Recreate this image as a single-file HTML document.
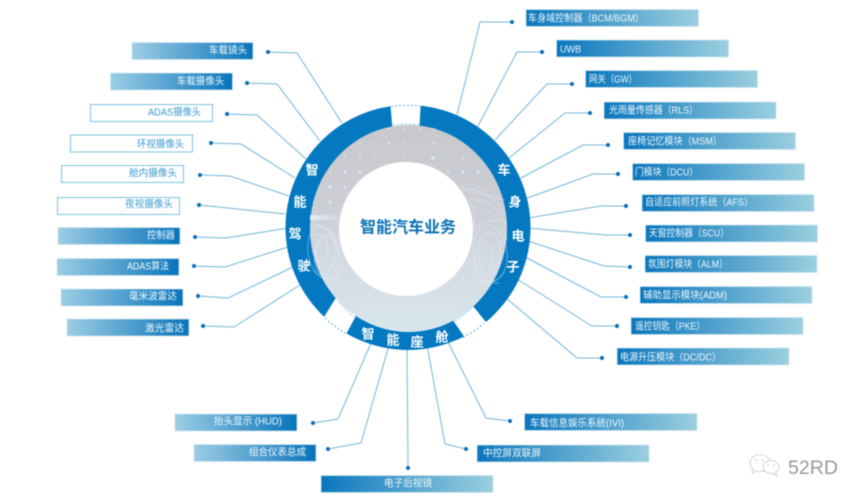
<!DOCTYPE html>
<html><head><meta charset="utf-8">
<style>
html,body{margin:0;padding:0;background:#fff;width:865px;height:502px;overflow:hidden}
svg{display:block;filter:blur(.4px)}
text{font-family:"Liberation Sans","Noto Sans CJK SC",sans-serif}
.w{fill:#f0f8fb;font-size:10px;dominant-baseline:central}
.o{fill:#3f9bcf;font-size:10px;dominant-baseline:central}
.r{fill:#fff;font-size:13px;font-weight:700;text-anchor:middle;dominant-baseline:central}
.l{fill:none;stroke:#74b5d8;stroke-width:1}
.d{fill:#0a6fb5}
.bl{fill:url(#gl);stroke:#cfe6f0;stroke-width:.8}
.br{fill:url(#gr);stroke:#cfe6f0;stroke-width:.8}
.bo{fill:#fff;stroke:#7cc4e0;stroke-width:1}
.gd{fill:#e4f3fb;opacity:.7}
.cv{fill:none;stroke:#e9f5f9;stroke-width:.6;opacity:.6}
</style></head><body>
<svg width="865" height="502" viewBox="0 0 865 502" xmlns="http://www.w3.org/2000/svg">
<defs>
<linearGradient id="gl" x1="0" x2="1" y1="0" y2="0"><stop offset="0" stop-color="#9ccde4"/><stop offset="1" stop-color="#0874bb"/></linearGradient>
<linearGradient id="gr" x1="0" x2="1" y1="0" y2="0"><stop offset="0" stop-color="#0a76bd"/><stop offset="1" stop-color="#9bcfdf"/></linearGradient>
<linearGradient id="gy" x1="0" x2="0" y1="0" y2="1"><stop offset="0" stop-color="#c9c9cd"/><stop offset=".45" stop-color="#cdd0d6"/><stop offset=".65" stop-color="#d3dae2"/><stop offset="1" stop-color="#d9e6ed"/></linearGradient>
<linearGradient id="bd" x1="0" x2="1" y1="0" y2="0"><stop offset="0" stop-color="#e6f4f8" stop-opacity=".85"/><stop offset="1" stop-color="#e6f4f8" stop-opacity="0"/></linearGradient>
</defs>

<!-- connectors -->
<g class="l">
<polyline points="268,52 297,53 342,123"/>
<polyline points="247,83 277,84 320,141"/>
<polyline points="227,114 257,115 306,159"/>
<polyline points="211,143 241,144 295,178"/>
<polyline points="200,175 230,176 289,196"/>
<polyline points="199,205 228,208 285,214"/>
<polyline points="195,237 226,238 288,228"/>
<polyline points="194,266 225,267 288,247"/>
<polyline points="198,296 228,298 293,267"/>
<polyline points="203,326 234,327 300,285"/>
<polyline points="512,22 480,22 457,115"/>
<polyline points="542,52 517,52 478,126"/>
<polyline points="572,84 547,84 495,140"/>
<polyline points="590,113 565,113 509,158"/>
<polyline points="608,145 583,145 521,178"/>
<polyline points="618,174 593,174 525,199"/>
<polyline points="626,206 601,206 528,218"/>
<polyline points="630,235 605,235 528,228"/>
<polyline points="630,267 604,266 528,241"/>
<polyline points="626,297 601,297 525,257"/>
<polyline points="617,326 592,326 517,279"/>
<polyline points="602,358 577,358 506,298"/>
<polyline points="313,423 338,419 371,343"/>
<polyline points="328,449 361,443 389,345"/>
<polyline points="408,468 407,348"/>
<polyline points="466,449 445,444 427,345"/>
<polyline points="510,421 486,418 448,342"/>
</g>
<g class="d">
<circle cx="268" cy="52" r="2"/><circle cx="247" cy="83" r="2"/><circle cx="227" cy="114" r="2"/><circle cx="211" cy="143" r="2"/><circle cx="200" cy="175" r="2"/><circle cx="199" cy="205" r="2"/><circle cx="195" cy="237" r="2"/><circle cx="194" cy="266" r="2"/><circle cx="198" cy="296" r="2"/><circle cx="203" cy="326" r="2"/>
<circle cx="512" cy="22" r="2"/><circle cx="542" cy="52" r="2"/><circle cx="572" cy="84" r="2"/><circle cx="590" cy="113" r="2"/><circle cx="608" cy="145" r="2"/><circle cx="618" cy="174" r="2"/><circle cx="626" cy="206" r="2"/><circle cx="630" cy="235" r="2"/><circle cx="630" cy="267" r="2"/><circle cx="626" cy="297" r="2"/><circle cx="617" cy="326" r="2"/><circle cx="602" cy="358" r="2"/>
<circle cx="313" cy="423" r="2"/><circle cx="328" cy="449" r="2"/><circle cx="408" cy="468" r="2"/><circle cx="466" cy="449" r="2"/><circle cx="510" cy="421" r="2"/>
</g>

<!-- ring -->
<circle cx="408" cy="227.500" r="122.500" fill="#0479c1"/>
<polygon points="390,100 393,135 419,135 421,100" fill="#fff"/>
<polygon points="470,345 490,327 468,300 450,316" fill="#fff"/>
<polygon points="321,322 343,340 358,312 337,296" fill="#fff"/>
<path d="M391,106.300 A122.500,122.500 0 0 1 420,106.100" fill="none" stroke="#5fb0dc" stroke-width="1" stroke-dasharray="2 2"/>
<path d="M463,337.500 A122.500,122.500 0 0 0 484,323.500" fill="none" stroke="#5fb0dc" stroke-width="1" stroke-dasharray="2 2"/>
<path d="M325,318 A122.500,122.500 0 0 0 347,334" fill="none" stroke="#5fb0dc" stroke-width="1" stroke-dasharray="2 2"/>
<ellipse cx="408.500" cy="228.500" rx="98.500" ry="103.500" fill="url(#gy)"/>
<path d="M393,125 Q406,123.500 419,125" fill="none" stroke="#8cc6e6" stroke-width="1" stroke-dasharray="2 2"/>
<path d="M455,321 Q465,315 472,307" fill="none" stroke="#8cc6e6" stroke-width="1" stroke-dasharray="2 2"/>
<path d="M339,302 Q346,311 354,317" fill="none" stroke="#8cc6e6" stroke-width="1" stroke-dasharray="2 2"/>

<!-- texture dots -->
<g class="gd">
<circle cx="389" cy="129" r="1"/><circle cx="404" cy="129" r="1"/><circle cx="419" cy="129" r="1"/><circle cx="434" cy="129" r="1"/>
<circle cx="360" cy="143" r=".8"/><circle cx="374" cy="143" r=".8"/><circle cx="389" cy="143" r="1.200"/><circle cx="404" cy="143" r=".8"/><circle cx="434" cy="143" r="1.200"/>
<circle cx="345" cy="157" r="1"/><circle cx="360" cy="157" r="1.200"/><circle cx="374" cy="157" r="1"/><circle cx="404" cy="157" r="1"/><circle cx="433" cy="158" r="1.800"/><circle cx="448" cy="158" r="1"/><circle cx="463" cy="158" r="1"/>
<circle cx="330" cy="172" r="1"/><circle cx="345" cy="172" r="1.500"/><circle cx="360" cy="172" r="1.500"/><circle cx="448" cy="172" r="1.200"/><circle cx="463" cy="172" r="1.500"/><circle cx="478" cy="172" r="1.500"/>
<circle cx="330" cy="187" r="1.500"/><circle cx="345" cy="187" r="1.200"/><circle cx="463" cy="187" r="1"/><circle cx="478" cy="187" r="1"/>
<circle cx="314" cy="202" r="1"/><circle cx="330" cy="202" r="1.500"/><circle cx="478" cy="202" r="1"/>
</g>
<!-- car sketch -->
<rect x="310" y="215" width="34" height="5" fill="url(#bd)"/>
<g class="cv">
<ellipse cx="325" cy="255" rx="10" ry="20" transform="rotate(10 325 255)"/><ellipse cx="323" cy="252" rx="15" ry="26" transform="rotate(-8 323 252)"/><ellipse cx="322" cy="250" rx="6" ry="14"/>
<path d="M310,225 Q330,222 342,260 Q340,275 332,280"/><path d="M312,235 Q325,232 340,245"/><path d="M311,222 Q328,226 339,240"/><path d="M313,270 Q325,285 340,276"/>
<ellipse cx="488" cy="255" rx="12" ry="22" transform="rotate(8 488 255)"/><ellipse cx="490" cy="253" rx="17" ry="28" transform="rotate(-6 490 253)"/><ellipse cx="486" cy="258" rx="7" ry="15"/>
<path d="M462,190 Q490,186 505,215"/><path d="M468,200 Q495,196 506,225"/><path d="M465,240 Q480,215 506,222"/><path d="M470,280 Q495,290 505,270"/><path d="M462,195 Q478,205 474,232"/><path d="M470,205 Q500,210 507,240"/><path d="M466,262 Q478,285 500,283"/><path d="M472,192 L505,200"/>
<path d="M350,300 Q405,320 462,300" opacity=".4"/>
</g>
<circle cx="406" cy="229" r="67" fill="#fff"/>

<text x="360" y="228" fill="#0b72b5" font-size="16" font-weight="700" dominant-baseline="central" textLength="96" lengthAdjust="spacingAndGlyphs">智能汽车业务</text>
<text class="r" x="312" y="170">智</text><text class="r" x="300" y="202">能</text><text class="r" x="295" y="234">驾</text><text class="r" x="304" y="266">驶</text>
<text class="r" x="504" y="170">车</text><text class="r" x="515" y="202">身</text><text class="r" x="518" y="236">电</text><text class="r" x="513" y="267">子</text>
<text class="r" x="368" y="334">智</text><text class="r" x="393" y="340">能</text><text class="r" x="417" y="342">座</text><text class="r" x="442" y="337">舱</text>

<!-- left bars -->
<rect class="bl" x="132" y="42.500" width="121" height="17"/><text class="w" x="209" y="51" textLength="38" lengthAdjust="spacingAndGlyphs">车载镜头</text>
<rect class="bl" x="110.500" y="73" width="122" height="17"/><text class="w" x="177" y="82" textLength="47" lengthAdjust="spacingAndGlyphs">车载摄像头</text>
<rect class="bo" x="90.500" y="104.500" width="122" height="17"/><text class="o" x="148" y="113" textLength="53" lengthAdjust="spacingAndGlyphs">ADAS摄像头</text>
<rect class="bo" x="70.500" y="135" width="122" height="17"/><text class="o" x="137" y="145" textLength="47" lengthAdjust="spacingAndGlyphs">环视摄像头</text>
<rect class="bo" x="61.500" y="165.500" width="122" height="17"/><text class="o" x="129" y="174" textLength="48" lengthAdjust="spacingAndGlyphs">舱内摄像头</text>
<rect class="bo" x="57.500" y="197.500" width="122" height="17"/><text class="o" x="125" y="205" textLength="48" lengthAdjust="spacingAndGlyphs">夜视摄像头</text>
<rect class="bl" x="58" y="227.500" width="122" height="17"/><text class="w" x="147" y="236" textLength="28" lengthAdjust="spacingAndGlyphs">控制器</text>
<rect class="bl" x="57" y="258.500" width="122" height="17"/><text class="w" x="127" y="267" textLength="42" lengthAdjust="spacingAndGlyphs">ADAS算法</text>
<rect class="bl" x="61" y="289" width="122" height="17"/><text class="w" x="129" y="297" textLength="48" lengthAdjust="spacingAndGlyphs">毫米波雷达</text>
<rect class="bl" x="67" y="319" width="122" height="17"/><text class="w" x="145" y="329" textLength="39" lengthAdjust="spacingAndGlyphs">激光雷达</text>

<!-- right bars -->
<rect class="br" x="526" y="9.500" width="172.500" height="17"/><text class="w" x="528" y="19" textLength="116" lengthAdjust="spacingAndGlyphs">车身域控制器（BCM/BGM）</text>
<rect class="br" x="556.500" y="40" width="172" height="17"/><text class="w" x="560" y="50" textLength="21" lengthAdjust="spacingAndGlyphs">UWB</text>
<rect class="br" x="585.500" y="70.500" width="172" height="17"/><text class="w" x="589" y="80" textLength="48" lengthAdjust="spacingAndGlyphs">网关（GW）</text>
<rect class="br" x="604" y="102" width="172" height="17"/><text class="w" x="609" y="111" textLength="89" lengthAdjust="spacingAndGlyphs">光雨量传感器（RLS）</text>
<rect class="br" x="623.500" y="132.500" width="172" height="17"/><text class="w" x="628" y="142" textLength="94" lengthAdjust="spacingAndGlyphs">座椅记忆模块（MSM）</text>
<rect class="br" x="632.500" y="163.500" width="172" height="17"/><text class="w" x="635" y="173" textLength="63" lengthAdjust="spacingAndGlyphs">门模块（DCU）</text>
<rect class="br" x="642" y="194.500" width="172" height="17"/><text class="w" x="645" y="203" textLength="108" lengthAdjust="spacingAndGlyphs">自适应前照灯系统（AFS）</text>
<rect class="br" x="645.500" y="225" width="172" height="17"/><text class="w" x="649" y="234" textLength="80" lengthAdjust="spacingAndGlyphs">天窗控制器（SCU）</text>
<rect class="br" x="645" y="255.500" width="172" height="17"/><text class="w" x="648" y="265" textLength="80" lengthAdjust="spacingAndGlyphs">氛围灯模块（ALM）</text>
<rect class="br" x="640" y="286.500" width="172" height="17"/><text class="w" x="643" y="296" textLength="84" lengthAdjust="spacingAndGlyphs">辅助显示模块(ADM)</text>
<rect class="br" x="631" y="317.500" width="172" height="17"/><text class="w" x="635" y="327" textLength="70" lengthAdjust="spacingAndGlyphs">遥控钥匙（PKE）</text>
<rect class="br" x="617" y="348" width="172" height="17"/><text class="w" x="620" y="358" textLength="101" lengthAdjust="spacingAndGlyphs">电源升压模块（DC/DC）</text>

<!-- bottom bars -->
<rect class="bl" x="175" y="414" width="122" height="17"/><text class="w" x="214" y="422" textLength="68" lengthAdjust="spacingAndGlyphs">抬头显示 (HUD)</text>
<rect class="bl" x="194" y="444.500" width="122" height="17"/><text class="w" x="249" y="453" textLength="57" lengthAdjust="spacingAndGlyphs">组合仪表总成</text>
<rect class="br" x="321" y="475.500" width="172" height="17"/><text class="w" x="384" y="484" textLength="48" lengthAdjust="spacingAndGlyphs">电子后视镜</text>
<rect class="br" x="477" y="445" width="172" height="17"/><text class="w" x="483" y="454" textLength="58" lengthAdjust="spacingAndGlyphs">中控屏双联屏</text>
<rect class="br" x="524.500" y="413.500" width="172.500" height="17"/><text class="w" x="530" y="424" textLength="94" lengthAdjust="spacingAndGlyphs">车载信息娱乐系统(IVI)</text>

<!-- watermark -->
<g fill="#fff" stroke="#c8c8c8" stroke-width=".8">
<ellipse cx="760" cy="463" rx="10" ry="8.500"/><path d="M753,469 L752,473 L757,471"/>
<ellipse cx="771" cy="467" rx="8" ry="6.500"/><path d="M775,472 L777,476 L772,473"/>
</g>
<g fill="#b5b5b5"><circle cx="756" cy="460" r=".8"/><circle cx="763" cy="460" r=".8"/><circle cx="768" cy="465" r=".7"/><circle cx="774" cy="465" r=".7"/></g>
<text x="788" y="474" fill="#999" font-size="19" textLength="50" lengthAdjust="spacingAndGlyphs">52RD</text>
</svg>
</body></html>
